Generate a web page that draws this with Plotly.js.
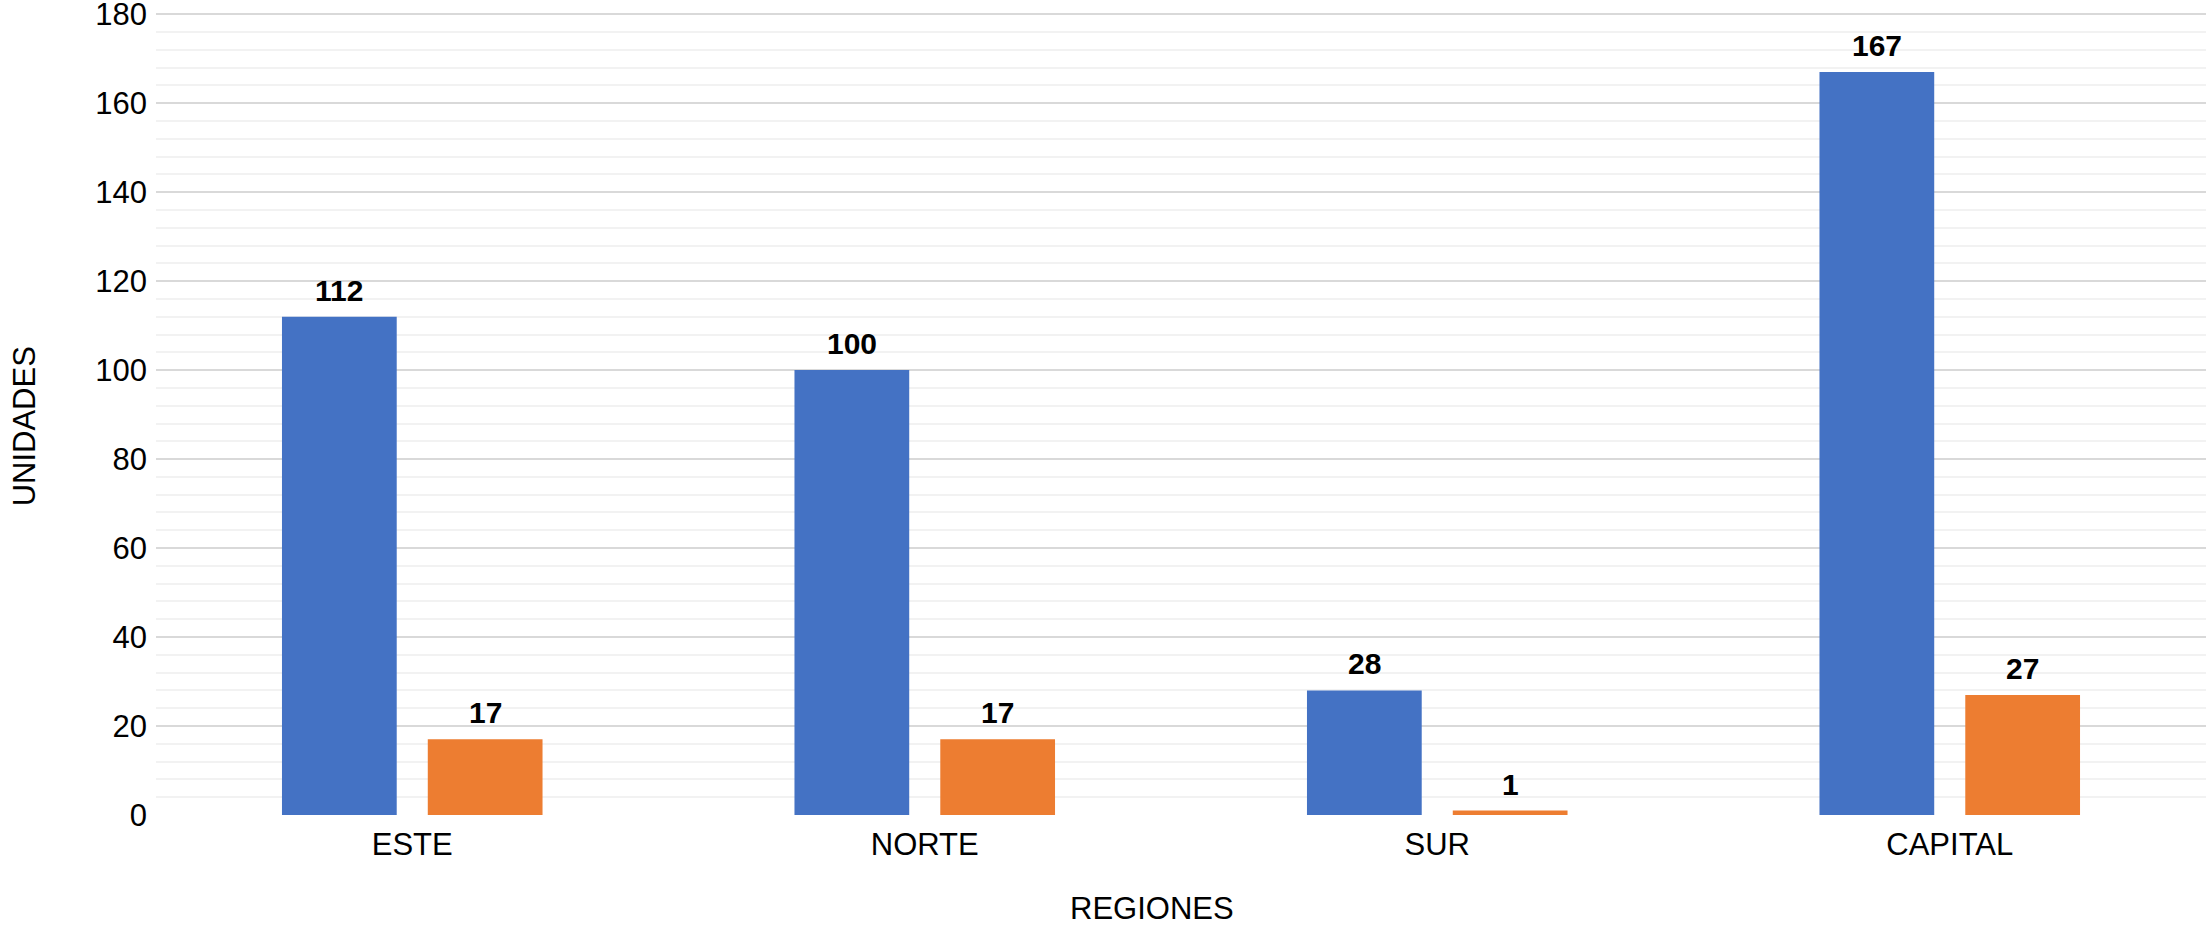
<!DOCTYPE html>
<html>
<head>
<meta charset="utf-8">
<script src="https://cdn.plot.ly/plotly-3.0.1.min.js"></script>
<style>
  html, body { margin: 0; padding: 0; background: #fff; }
  #chart { width: 2209px; height: 925px; }
</style>
</head>
<body>
<div id="chart"></div>
<script>
// Regions and unit counts per series
const regiones = ['ESTE', 'NORTE', 'SUR', 'CAPITAL'];
const serieAzul = [112, 100, 28, 167];
const serieNaranja = [17, 17, 1, 27];
const yTicks = [0, 20, 40, 60, 80, 100, 120, 140, 160, 180];

const AZUL = '#4472C4';
const NARANJA = '#ED7D31';
const FONT = 'Liberation Sans, Arial, sans-serif';

const BARGAP = 0.431;
const GROUPGAP = 0.213;

const traces = [
  { type: 'bar', x: regiones, y: serieAzul, marker: { color: AZUL }, hoverinfo: 'x+y' },
  { type: 'bar', x: regiones, y: serieNaranja, marker: { color: NARANJA }, hoverinfo: 'x+y' }
];

// Value labels above each bar, centred on its slot in the group
const slot = (1 - BARGAP) / 2;
const annotations = [];
[serieAzul, serieNaranja].forEach((serie, s) => {
  serie.forEach((v, i) => {
    annotations.push({
      x: i + (s === 0 ? -slot / 2 : slot / 2), xref: 'x',
      y: v, yref: 'y', yanchor: 'bottom', yshift: 8,
      text: '<b>' + v + '</b>', showarrow: false,
      font: { family: FONT, size: 30, color: '#000' }
    });
  });
});
annotations.push({
  x: 0.486, xref: 'paper', xanchor: 'center',
  y: 0, yref: 'paper', yanchor: 'middle', yshift: -93,
  text: 'REGIONES', showarrow: false, borderpad: 0,
  font: { family: FONT, size: 31, color: '#000' }
});
annotations.push({
  x: 0, xref: 'paper', xanchor: 'center', xshift: -132,
  y: 0.484, yref: 'paper', yanchor: 'middle', textangle: -90,
  text: 'UNIDADES', showarrow: false,
  font: { family: FONT, size: 31, color: '#000' }
});

const layout = {
  width: 2209, height: 925,
  margin: { l: 156, r: 3, t: 12, b: 110 },
  paper_bgcolor: '#fff', plot_bgcolor: '#fff',
  showlegend: false,
  barmode: 'group', bargap: BARGAP, bargroupgap: GROUPGAP,
  font: { family: FONT, size: 31, color: '#000' },
  xaxis: {
    type: 'category', categoryarray: regiones,
    showgrid: false, zeroline: false, showline: false, ticks: '',
    tickfont: { family: FONT, size: 31, color: '#000' },
    ticklabelstandoff: 8
  },
  yaxis: {
    range: [0, 180.5], tickvals: yTicks, ticktext: yTicks.map(String),
    showgrid: true, gridcolor: '#d9d9d9', gridwidth: 2,
    zeroline: false, showline: false, ticks: '',
    minor: { dtick: 4, showgrid: true, gridcolor: '#f2f2f2', gridwidth: 2 },
    tickfont: { family: FONT, size: 31, color: '#000' },
    ticklabelstandoff: 8, ticklabeloverflow: 'allow'
  },
  annotations: annotations
};

Plotly.newPlot('chart', traces, layout, { displayModeBar: false, staticPlot: true });
</script>
</body>
</html>
